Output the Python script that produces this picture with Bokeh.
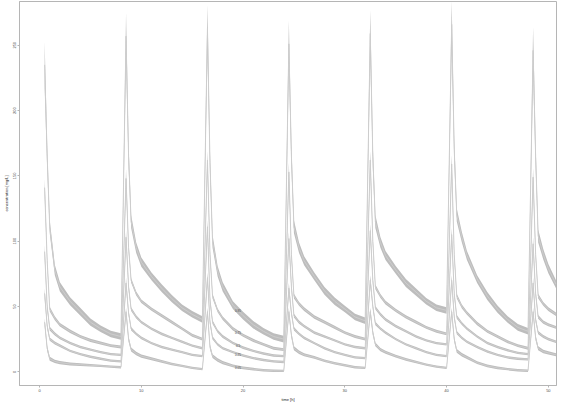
import numpy as np
from bokeh.plotting import figure
from bokeh.models import Range1d
from bokeh.embed import file_html
from bokeh.resources import INLINE
from bokeh.core.properties import value

# sampling times [h] (doses every 8 h, peak 0.5 h after each dose)
TIME = [0.5, 0.75, 1, 1.5, 2, 3, 4, 5, 6, 7, 8,
        8.5, 8.75, 9, 9.5, 10, 11, 12, 13, 14, 15, 16,
        16.5, 16.75, 17, 17.5, 18, 19, 20, 21, 22, 23, 24,
        24.5, 24.75, 25, 25.5, 26, 27, 28, 29, 30, 31, 32,
        32.5, 32.75, 33, 33.5, 34, 35, 36, 37, 38, 39, 40,
        40.5, 40.75, 41, 41.5, 42, 43, 44, 45, 46, 47, 48,
        48.5, 48.75, 49, 49.5, 50, 50.75]

Q95 = [235, 165, 111, 78, 65, 54, 46, 38, 33, 29, 27,
       257, 165, 115, 95, 84, 73, 64, 56, 49, 44, 40,
       263, 160, 100, 77, 65, 51, 43, 36, 31, 27, 25,
       251, 165, 111, 95, 85, 73, 62, 54, 48, 42, 39,
       259, 165, 115, 99, 89, 78, 68, 61, 54, 49, 47,
       266, 170, 120, 103, 89, 71, 58, 48, 40, 34, 31,
       246, 165, 104, 90, 79, 67]

Q75 = [141, 85, 48, 41, 36, 31, 27, 24, 22, 20, 19,
       148, 95, 70, 60, 54, 48, 43, 38, 33, 28, 25,
       162, 90, 58, 47, 41, 33, 28, 24, 21, 18, 17,
       153, 90, 58, 52, 48, 42, 38, 34, 30, 27, 25,
       162, 100, 65, 58, 53, 47, 42, 38, 34, 31, 29,
       159, 90, 58, 50, 45, 37, 31, 27, 23, 20, 18,
       149, 90, 58, 52, 48, 44]

Q50 = [92, 50, 33, 29, 26, 22, 19, 17, 15, 13.5, 13,
       103, 65, 48, 42, 38, 33, 29, 26, 23, 20, 18,
       111, 55, 38, 31, 27, 22, 18.5, 16, 14, 12.5, 12,
       102, 65, 43, 38, 35, 30, 27, 24, 21, 19, 18,
       108, 70, 49, 44, 40, 35, 31, 27, 24, 22, 21,
       105, 60, 42, 37, 33, 27, 22, 19, 16.5, 14.5, 13.5,
       98, 60, 42, 38, 36, 34]

Q25 = [60, 35, 25, 22, 20, 16, 13.5, 11.5, 10, 8.5, 8,
       68, 45, 33, 29, 26, 22, 19, 17, 15, 13, 12,
       72, 38, 26, 21, 18, 15, 12.5, 10.5, 9, 8, 7.5,
       64, 45, 33, 29, 26, 22, 18, 15, 13, 11, 10.5,
       70, 50, 37, 33, 30, 25, 21, 18, 15, 13, 12,
       70, 42, 30, 26, 23, 19, 15.5, 13, 11, 10, 9.5,
       68, 40, 30, 27, 25, 23]

Q05 = [38, 18, 10, 8, 7, 6, 5.5, 5, 4.5, 4, 3.5,
       46, 25, 17, 14, 12, 10, 8, 6, 4.5, 3, 2,
       46, 19, 12, 9, 7, 4.5, 3, 2, 1.2, 0.8, 0.7,
       46, 28, 18, 15, 13, 11, 8.5, 6.5, 5, 3.5, 3,
       46, 30, 21, 17, 15, 12, 9.5, 7.5, 5.5, 4, 3,
       46, 25, 16, 13, 11, 7, 4.5, 3, 2, 1.2, 0.8,
       46, 26, 18, 15.5, 14.5, 13]

# half-width of the uncertainty band for each sampling offset within a dosing interval
HW95 = [18, 9, 5, 4, 3.5, 3, 3, 2.8, 2.5, 2.5, 2.5]
HW75 = [7, 3, 1.8, 1.5, 1.4, 1.3, 1.2, 1.2, 1.1, 1.1, 1.1]
HW50 = [5, 2.5, 1.4, 1.2, 1.1, 1.0, 1.0, 0.9, 0.9, 0.9, 0.9]
HW25 = [4, 2, 1.3, 1.1, 1.0, 0.9, 0.9, 0.9, 0.9, 0.9, 0.9]
HW05 = [3, 2, 1.5, 1.3, 1.2, 1.1, 1.0, 1.0, 0.9, 0.9, 0.9]

LABELS = ["0.95", "0.75", "0.5", "0.25", "0.05"]
LABEL_TIME = 19.5

X_TICKS = [0, 10, 20, 30, 40, 50]
Y_TICKS = [0, 50, 100, 150, 200, 250]

FONT = "Liberation Sans"
BAND = "#bdbdbd"
LINE = "#cdcdcd"
FRAME = "#b5b5b5"

t = np.array(TIME, dtype=float)
n_full = 6


def band(hw):
    full = list(hw) * n_full + list(hw[:len(TIME) - len(hw) * n_full])
    return np.array(full, dtype=float)


p = figure(width=559, height=404, output_backend="svg", toolbar_location=None,
           x_range=Range1d(-1.97, 50.8), y_range=Range1d(-10.5, 283.5),
           min_border_left=0, min_border_right=3, min_border_top=1,
           min_border_bottom=0, background_fill_color="white")

series = [Q95, Q75, Q50, Q25, Q05]
widths = [HW95, HW75, HW50, HW25, HW05]

for med, hw in zip(series, widths):
    m = np.array(med, dtype=float)
    w = band(hw)
    p.varea(x=t, y1=m - w, y2=m + w, fill_color=BAND, fill_alpha=1.0)

for med in series:
    p.line(t, np.array(med, dtype=float), line_color=LINE, line_width=1)

lab_y = [float(np.interp(LABEL_TIME, t, np.array(s, dtype=float))) for s in series]
p.text(x=[LABEL_TIME] * len(LABELS), y=lab_y, text=LABELS,
       text_font=value(FONT), text_font_size="3px", text_color="#444444",
       text_align="center", text_baseline="middle")

p.xgrid.visible = False
p.ygrid.visible = False
p.outline_line_color = FRAME
p.outline_line_width = 1

p.xaxis.ticker = X_TICKS
p.yaxis.ticker = Y_TICKS
p.xaxis.axis_label = "time [h]"
p.yaxis.axis_label = "concentration [mg/L]"
p.yaxis.major_label_orientation = "vertical"

for ax in (p.xaxis, p.yaxis):
    ax.axis_line_color = FRAME
    ax.major_tick_line_color = FRAME
    ax.minor_tick_line_color = None
    ax.major_tick_out = 2
    ax.major_tick_in = 0
    ax.major_label_standoff = 1
    ax.axis_label_standoff = 2
    ax.major_label_text_font = FONT
    ax.major_label_text_font_size = "4px"
    ax.major_label_text_color = "#4d4d4d"
    ax.axis_label_text_font = FONT
    ax.axis_label_text_font_size = "4px"
    ax.axis_label_text_font_style = "normal"
    ax.axis_label_text_color = "#222222"

open("out.html", "w").write(file_html(p, INLINE))
